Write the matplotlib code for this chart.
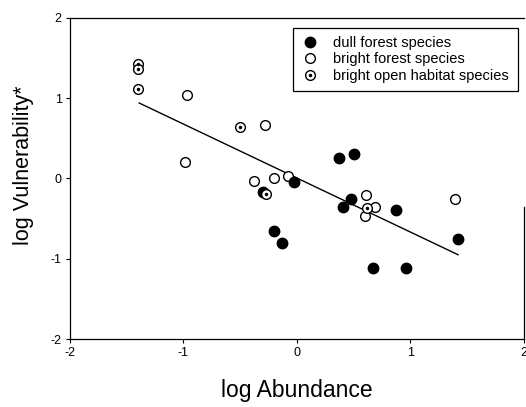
import matplotlib as mpl
mpl.use('Agg')
import matplotlib.pyplot as plt
import numpy as np

plt.rcParams['font.family'] = ['Liberation Sans', 'DejaVu Sans']
plt.rcParams['axes.unicode_minus'] = False

# dull forest species (filled)
dull_x = [-0.30, -0.03, 0.37, 0.50, 0.48, 0.41, 0.87, 1.42, -0.20, -0.13, 0.67, 0.96]
dull_y = [-0.17, -0.04, 0.25, 0.30, -0.26, -0.35, -0.39, -0.76, -0.65, -0.80, -1.11, -1.12]

# bright forest species (open)
forest_x = [-0.97, -0.28, -0.99, -0.38, -0.20, -0.08, 0.61, 0.69, 0.60, 1.39]
forest_y = [1.04, 0.66, 0.20, -0.03, 0.00, 0.03, -0.21, -0.35, -0.47, -0.25]

# bright open habitat species (open with dot)
open_x = [-1.40, -1.40, -1.40, -0.50, -0.27, 0.62]
open_y = [1.42, 1.36, 1.12, 0.64, -0.19, -0.37]

# regression line
fit_x = [-1.39, 1.42]
fit_y = [0.94, -0.95]

ticks = [-2, -1, 0, 1, 2]

fig = plt.figure(figsize=(5.26, 4.07), dpi=100)
ax = fig.add_axes([0.133, 0.167, 0.863, 0.789])

ax.plot(fit_x, fit_y, color='black', lw=1.0, zorder=1)

h_forest, = ax.plot(forest_x, forest_y, 'o', ms=7, mfc='white', mec='black', mew=1.0, ls='none', zorder=2)
h_dull, = ax.plot(dull_x, dull_y, 'o', ms=7.5, mfc='black', mec='black', mew=1.0, ls='none', zorder=3)
h_open, = ax.plot(open_x, open_y, 'o', ms=7, mfc='white', mec='black', mew=1.0, ls='none', zorder=4)
h_dot, = ax.plot(open_x, open_y, '.', ms=3, color='black', ls='none', zorder=5)

leg = ax.legend([h_dull, h_forest, (h_open, h_dot)],
                ['dull forest species', 'bright forest species', 'bright open habitat species'],
                loc='upper right', bbox_to_anchor=(0.987, 0.97), fontsize=10.5,
                frameon=True, fancybox=False, framealpha=1, edgecolor='black',
                labelspacing=0.15, handlelength=1.2, handletextpad=1.0, borderpad=0.6,
                borderaxespad=0)
leg.get_frame().set_linewidth(0.9)

ax.set_xlim(-2, 2)
ax.set_ylim(-2, 2)
ax.set_xticks(ticks)
ax.set_yticks(ticks)
ax.tick_params(direction='out', length=3, width=0.8, labelsize=9, pad=3)

ax.spines['right'].set_bounds(-2, -0.35)
for s in ax.spines.values():
    s.set_linewidth(0.9)

ax.set_xlabel('log Abundance', fontsize=16.5, labelpad=14)
ax.set_ylabel('log Vulnerability*', fontsize=15.5)
ax.yaxis.set_label_coords(-0.08, 0.54)

plt.savefig('out.png', dpi=100)
